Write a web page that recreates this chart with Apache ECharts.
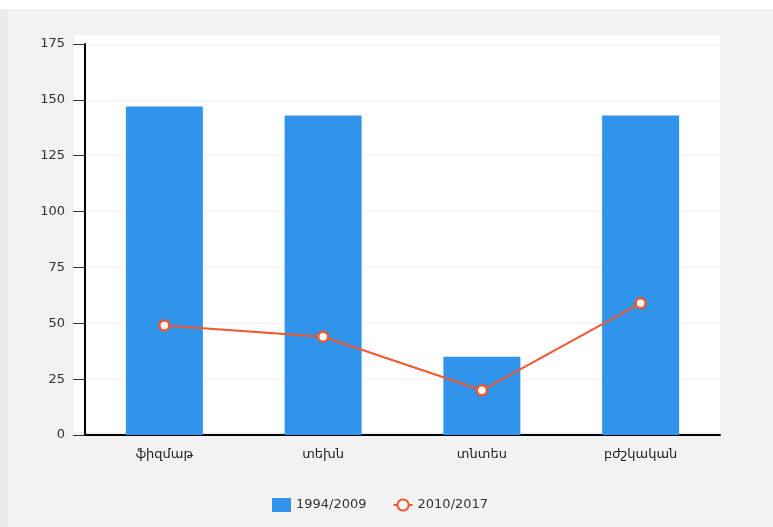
<!DOCTYPE html>
<html>
<head>
<meta charset="utf-8">
<script src="https://cdn.jsdelivr.net/npm/echarts@6/dist/echarts.min.js"></script>
<style>
  body { margin: 0; background: #fff; }
  #wrap { position: absolute; left: 0; top: 9px; width: 765px; height: 518px; background: #f2f2f2; border-left: 8px solid #ebebeb; }
  #main { width: 765px; height: 518px; }
</style>
</head>
<body>
<div id="wrap"><div id="main"></div></div>
<script>
var categories = ['ֆիզմաթ', 'տեխն', 'տնտես', 'բժշկական'];
var seriesNames = ['1994/2009', '2010/2017'];
var barValues = [147, 143, 35, 143];
var lineValues = [49, 44, 20, 59];
var yTicks = { min: 0, max: 175, interval: 25 };

var FONT = 'DejaVu Sans';

var myChart = echarts.init(document.getElementById('main'));
var option = {
    animation: false,
    textStyle: { fontFamily: FONT },
    grid: [
        // white panel behind the plot
        { left: 66, top: 26, right: 53, bottom: 95, show: true, backgroundColor: '#ffffff', borderWidth: 0 },
        { left: 77, top: 35, right: 53, bottom: 92 }
    ],
    legend: {
        data: [{ name: seriesNames[0], icon: 'rect' }, { name: seriesNames[1] }],
        left: 259,
        top: 484,
        itemWidth: 19,
        itemHeight: 14,
        itemGap: 26,
        textStyle: { color: '#333', fontSize: 13, fontFamily: FONT }
    },
    xAxis: [
        { gridIndex: 0, type: 'category', data: categories, show: false },
        {
            gridIndex: 1,
            type: 'category',
            data: categories,
            axisLine: { lineStyle: { color: '#000', width: 2 } },
            axisTick: { alignWithLabel: true, length: 10, lineStyle: { color: '#333' } },
            axisLabel: { color: '#222', fontSize: 13, margin: 13, fontFamily: FONT }
        }
    ],
    yAxis: [
        { gridIndex: 0, type: 'value', show: false },
        {
            gridIndex: 1,
            type: 'value',
            min: yTicks.min,
            max: yTicks.max,
            interval: yTicks.interval,
            axisLine: { show: true, lineStyle: { color: '#000', width: 2 } },
            axisTick: { show: true, length: 12, lineStyle: { color: '#333' } },
            axisLabel: { color: '#333', fontSize: 13, margin: 20, fontFamily: FONT },
            splitLine: { lineStyle: { color: '#f2f2f2', width: 1 } }
        }
    ],
    series: [
        {
            name: seriesNames[0],
            type: 'bar',
            xAxisIndex: 1,
            yAxisIndex: 1,
            barWidth: '48.5%',
            itemStyle: { color: '#3095ea' },
            data: barValues
        },
        {
            name: seriesNames[1],
            type: 'line',
            xAxisIndex: 1,
            yAxisIndex: 1,
            symbol: 'circle',
            symbolSize: 10,
            lineStyle: { color: '#f2572f', width: 2 },
            itemStyle: { color: '#ffffff', borderColor: '#f2572f', borderWidth: 2.5 },
            data: lineValues
        }
    ]
};
myChart.setOption(option);
</script>
</body>
</html>
